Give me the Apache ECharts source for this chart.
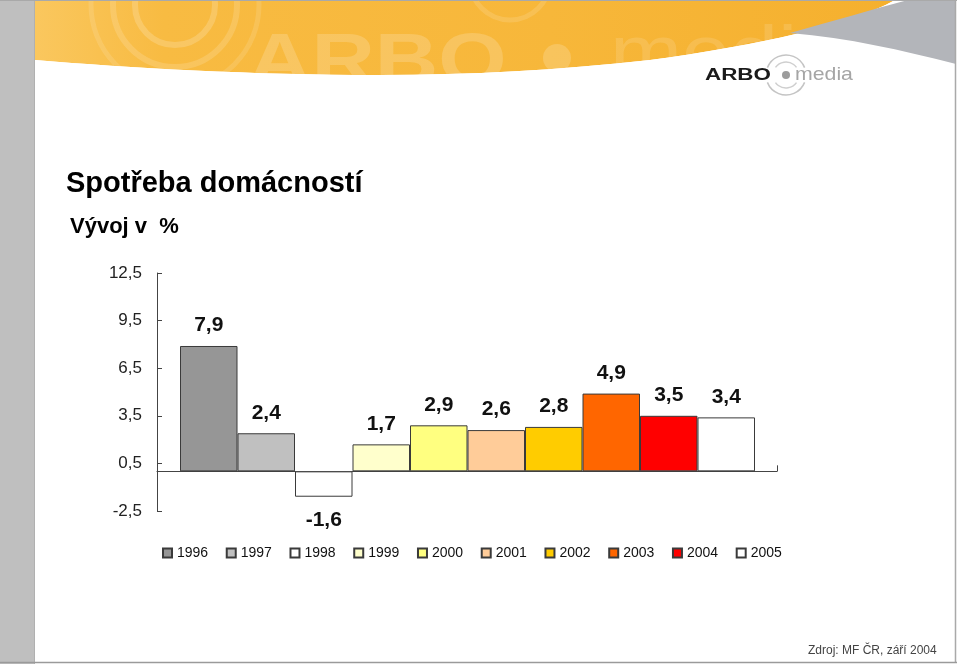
<!DOCTYPE html>
<html>
<head>
<meta charset="utf-8">
<script src="https://cdn.jsdelivr.net/npm/echarts@6/dist/echarts.min.js"></script>
<style>
html,body{margin:0;padding:0;background:#fff;}
#chart{width:960px;height:664px;}
</style>
</head>
<body>
<div id="chart"></div>
<script>
const years = ['1996','1997','1998','1999','2000','2001','2002','2003','2004','2005'];
const values = [7.9, 2.4, -1.6, 1.7, 2.9, 2.6, 2.8, 4.9, 3.5, 3.4];
const barColors = ['#969696','#c0c0c0','#ffffff','#ffffcc','#ffff80','#ffcc99','#ffcc00','#ff6600','#ff0000','#ffffff'];
const yTicks = [-2.5, 0.5, 3.5, 6.5, 9.5, 12.5];
const titleText = 'Spotřeba domácností';
const subtitleText = 'Vývoj v  %';
const sourceText = 'Zdroj: MF ČR, září 2004';

const FONT = '"Liberation Sans", Arial, sans-serif';
const fmt = v => String(v).replace('.', ',');

// generic bezier path shape for decoration
echarts.graphic.registerShape('cmdPath', echarts.graphic.extendShape({
  shape: {cmds: []},
  buildPath: function (ctx, shape) {
    shape.cmds.forEach(c => {
      if (c[0] === 'M') ctx.moveTo(c[1], c[2]);
      else if (c[0] === 'L') ctx.lineTo(c[1], c[2]);
      else if (c[0] === 'C') ctx.bezierCurveTo(c[1], c[2], c[3], c[4], c[5], c[6]);
      else if (c[0] === 'Z') ctx.closePath();
    });
  }
}));

const chart = echarts.init(document.getElementById('chart'), null, {renderer: 'canvas'});

const series = years.map((name, i) => ({
  name: name,
  type: 'bar',
  xAxisIndex: 1,
  yAxisIndex: 1,
  stack: 'all',
  barWidth: '100%',
  itemStyle: {color: barColors[i], borderColor: '#3a3a3a', borderWidth: 1},
  label: {
    show: true,
    distance: 10,
    fontSize: 21,
    fontWeight: 'bold',
    fontFamily: FONT,
    color: '#111',
    formatter: p => fmt(p.value)
  },
  data: years.map((_, j) => j === i
    ? (values[i] < 0
        ? {value: values[i], label: {position: 'bottom', distance: 13}}
        : {value: values[i], label: {position: 'top'}})
    : '-')
}));

const graphics = [
  {type: 'rect', z: 0, shape: {x: 0, y: 0, width: 34, height: 664}, style: {fill: '#bfbfbf'}},
  {type: 'line', z: 1, shape: {x1: 34.5, y1: 0, x2: 34.5, y2: 664}, style: {stroke: '#b0b0b0', lineWidth: 1}},
  {type: 'cmdPath', z: 0, shape: {cmds: [['M',35,0],['L',895,0],['C',850,25,760,45,650,60],['C',560,70,470,75,380,75],['C',250,75,130,68,35,60],['Z']]},
   style: {fill: new echarts.graphic.LinearGradient(0, 0, 1, 0, [
     {offset: 0, color: '#fac75e'}, {offset: 0.15, color: '#f8bb42'}, {offset: 0.6, color: '#f7b73a'}, {offset: 1, color: '#f5b02e'}])}},
  {type: 'circle', z: 1, shape: {cx: 175, cy: 5, r: 40}, style: {fill: 'none', stroke: 'rgba(255,255,255,0.18)', lineWidth: 6}},
  {type: 'circle', z: 1, shape: {cx: 175, cy: 5, r: 62}, style: {fill: 'none', stroke: 'rgba(255,255,255,0.15)', lineWidth: 6}},
  {type: 'circle', z: 1, shape: {cx: 175, cy: 5, r: 84}, style: {fill: 'none', stroke: 'rgba(255,255,255,0.12)', lineWidth: 5}},
  {type: 'circle', z: 1, shape: {cx: 510, cy: -20, r: 40}, style: {fill: 'none', stroke: 'rgba(255,255,255,0.13)', lineWidth: 5}},
  {type: 'text', z: 1, x: 248, y: 28, scaleX: 1.22,
   style: {text: 'ARBO', fill: 'rgba(255,255,255,0.18)', font: 'bold 72px ' + FONT, verticalAlign: 'top'}},
  {type: 'circle', z: 1, shape: {cx: 557, cy: 58, r: 14}, style: {fill: 'rgba(255,255,255,0.18)'}},
  {type: 'text', z: 1, x: 610, y: 20, scaleX: 1.2,
   style: {text: 'media', fill: 'rgba(255,255,255,0.13)', font: '72px ' + FONT, verticalAlign: 'top'}},
  {type: 'cmdPath', z: 2, shape: {cmds: [['M',35,60],['C',130,68,250,75,380,75],['C',470,75,560,70,650,60],['C',760,45,850,25,895,0],['L',956,0],['L',956,130],['L',35,130],['Z']]},
   style: {fill: '#ffffff'}},
  {type: 'cmdPath', z: 3, shape: {cmds: [['M',790,33],['C',830,22,870,10,908,0],['L',956,0],['L',956,64],['C',900,50,850,38,790,33],['Z']]},
   style: {fill: '#b3b5ba'}},
  {type: 'line', z: 5, shape: {x1: 0, y1: 0.5, x2: 957, y2: 0.5}, style: {stroke: '#a9a9a9', lineWidth: 1}},
  {type: 'line', z: 5, shape: {x1: 955.5, y1: 0, x2: 955.5, y2: 663}, style: {stroke: '#a9a9a9', lineWidth: 1.5}},
  {type: 'line', z: 5, shape: {x1: 0, y1: 662.5, x2: 957, y2: 662.5}, style: {stroke: '#9a9a9a', lineWidth: 1.5}},
  {type: 'arc', z: 4, shape: {cx: 786, cy: 75, r: 20, startAngle: Math.PI * 1.12, endAngle: Math.PI * 1.88}, style: {fill: 'none', stroke: '#c4c4c4', lineWidth: 1.5}},
  {type: 'arc', z: 4, shape: {cx: 786, cy: 75, r: 20, startAngle: Math.PI * 0.12, endAngle: Math.PI * 0.88}, style: {fill: 'none', stroke: '#c4c4c4', lineWidth: 1.5}},
  {type: 'arc', z: 4, shape: {cx: 786, cy: 75, r: 13, startAngle: Math.PI * 1.2, endAngle: Math.PI * 1.8}, style: {fill: 'none', stroke: '#cfcfcf', lineWidth: 1.5}},
  {type: 'arc', z: 4, shape: {cx: 786, cy: 75, r: 13, startAngle: Math.PI * 0.2, endAngle: Math.PI * 0.8}, style: {fill: 'none', stroke: '#cfcfcf', lineWidth: 1.5}},
  {type: 'circle', z: 4, shape: {cx: 786, cy: 75, r: 4}, style: {fill: '#9c9c9c'}},
  {type: 'text', z: 4, x: 705, y: 76, scaleX: 1.4,
   style: {text: 'ARBO', fill: '#1a1a1a', font: 'bold 16px ' + FONT, verticalAlign: 'middle'}},
  {type: 'text', z: 4, x: 795, y: 75, scaleX: 1.12,
   style: {text: 'media', fill: '#a5a5a5', font: '19px ' + FONT, verticalAlign: 'middle'}},
  {type: 'text', z: 4, left: 66, top: 169,
   style: {text: titleText, fill: '#000', font: 'bold 29px ' + FONT}},
  {type: 'text', z: 4, left: 70, top: 216,
   style: {text: subtitleText, fill: '#000', font: 'bold 22px ' + FONT}},
  {type: 'text', z: 4, left: 808, top: 645,
   style: {text: sourceText, fill: '#444', font: '12px ' + FONT}}
];

const option = {
  animation: false,
  backgroundColor: '#ffffff',
  graphic: graphics,
  legend: {
    data: years,
    left: 157,
    top: 541,
    icon: 'rect',
    itemWidth: 9,
    itemHeight: 9,
    itemGap: 17.6,
    textStyle: {fontSize: 14, color: '#111', fontFamily: FONT}
  },
  grid: [
    {left: 157, top: 273, width: 620, height: 238},
    {left: 180, top: 273, width: 575, height: 238}
  ],
  xAxis: [
    {gridIndex: 0, type: 'value', min: 0, max: 1, interval: 1,
     axisLine: {show: true, onZero: true, lineStyle: {color: '#444', width: 1}},
     axisTick: {show: true, inside: true, length: 6, lineStyle: {color: '#444'}},
     axisLabel: {show: false}, splitLine: {show: false}},
    {gridIndex: 1, type: 'category', data: years, show: false}
  ],
  yAxis: [
    {gridIndex: 0, type: 'value', min: -2.5, max: 12.5,
     axisLine: {show: true, onZero: false, lineStyle: {color: '#444', width: 1}},
     axisTick: {show: true, inside: true, length: 5, customValues: yTicks, lineStyle: {color: '#444'}},
     axisLabel: {show: true, customValues: yTicks, formatter: v => fmt(v), fontSize: 17, color: '#222', margin: 15, fontFamily: FONT},
     splitLine: {show: false}},
    {gridIndex: 1, type: 'value', min: -2.5, max: 12.5, show: false}
  ],
  series: series
};

chart.setOption(option);
</script>
</body>
</html>
